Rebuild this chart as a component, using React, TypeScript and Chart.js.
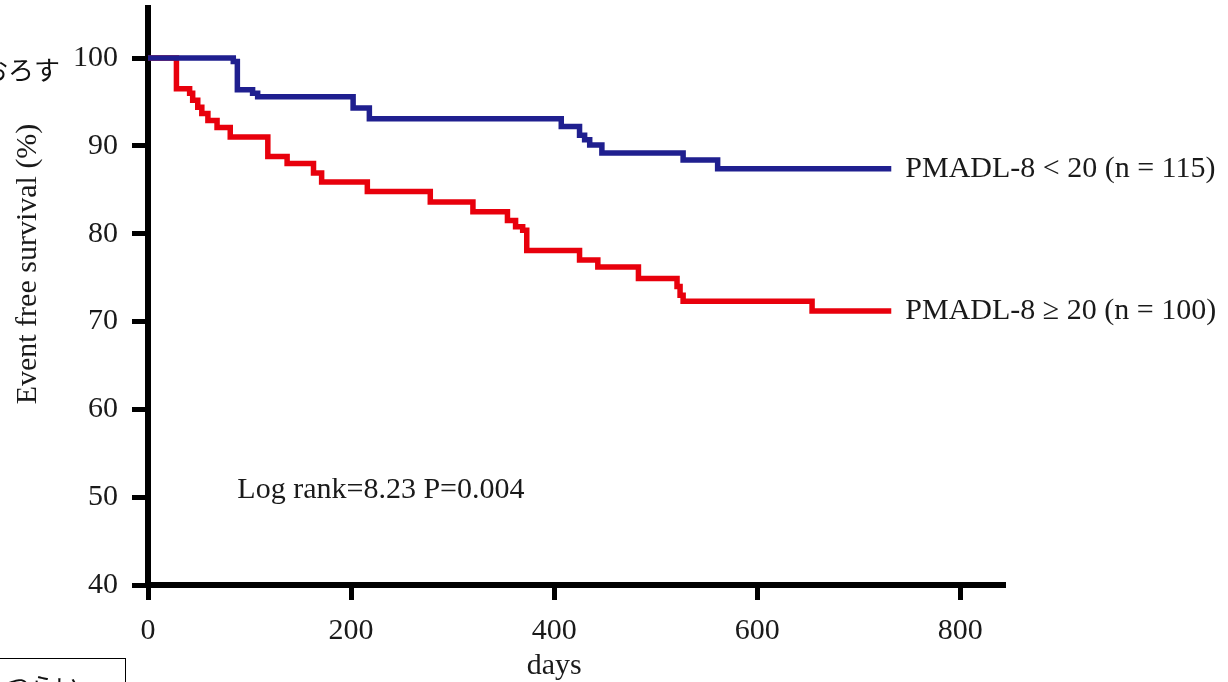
import React, { useEffect, useRef } from "react";
import { Chart, registerables } from "chart.js";

Chart.register(...registerables);

// ---- data ----
const blueLabel = "PMADL-8 < 20 (n = 115)";
const blueDays = [0, 84, 88, 103, 108, 202, 218, 407, 425, 430, 435, 447, 527, 561, 732];
const blueSurvival = [100, 99.6, 96.4, 96.0, 95.6, 94.3, 93.1, 92.2, 91.2, 90.7, 90.1, 89.2, 88.4, 87.4, 87.4];

const redLabel = "PMADL-8 \u2265 20 (n = 100)";
const redDays = [0, 28, 41, 44, 49, 53, 59, 68, 81, 118, 137, 163, 171, 216, 278, 320, 354, 362, 369, 373, 425, 443, 483, 521, 524, 527, 654, 732];
const redSurvival = [100, 96.5, 96.0, 95.2, 94.4, 93.7, 92.9, 92.1, 91.0, 88.8, 88.0, 86.9, 85.9, 84.8, 83.6, 82.5, 81.5, 80.8, 80.4, 78.1, 77.0, 76.2, 74.9, 74.0, 73.0, 72.3, 71.2, 71.2];

const xTicks = [0, 200, 400, 600, 800];
const yTicks = [40, 50, 60, 70, 80, 90, 100];
const xTitle = "days";
const yTitle = "Event free survival (%)";
const logRankText = "Log rank=8.23 P=0.004";
const logRankAt = [88, 50.8]; // [day, survival]

const BLUE = "#1f1f8f";
const RED = "#e8000c";
const FONT = '"Liberation Serif", "Times New Roman", serif';
const FONT_SIZE = 30;
const TEXT = "#1a1a1a";

const toPoints = (xs: number[], ys: number[]) => xs.map((x, i) => ({ x, y: ys[i] }));

const textPlugin = {
  id: "textPlugin",
  afterDraw(chart: any) {
    const ctx = chart.ctx;
    const xs = chart.scales.x;
    const ys = chart.scales.y;
    ctx.save();
    ctx.font = `${FONT_SIZE}px ${FONT}`;
    ctx.fillStyle = TEXT;
    ctx.textAlign = "left";
    ctx.textBaseline = "middle";
    chart.data.datasets.forEach((ds: any) => {
      const last = ds.data[ds.data.length - 1];
      ctx.fillText(ds.label, xs.getPixelForValue(last.x) + 14, ys.getPixelForValue(last.y));
    });
    ctx.fillText(logRankText, xs.getPixelForValue(logRankAt[0]), ys.getPixelForValue(logRankAt[1]));
    ctx.textAlign = "center";
    ctx.fillText(xTitle, xs.getPixelForValue(400), 666);
    ctx.translate(28, 264);
    ctx.rotate(-Math.PI / 2);
    ctx.fillText(yTitle, 0, 0);
    ctx.restore();
  },
};

export default function App() {
  const ref = useRef<HTMLCanvasElement | null>(null);

  useEffect(() => {
    if (!ref.current) return;
    const chart = new Chart(ref.current, {
      type: "line",
      data: {
        datasets: [
          {
            label: blueLabel,
            data: toPoints(blueDays, blueSurvival),
            borderColor: BLUE,
            borderWidth: 5.5,
            pointRadius: 0,
            stepped: true,
            fill: false,
          },
          {
            label: redLabel,
            data: toPoints(redDays, redSurvival),
            borderColor: RED,
            borderWidth: 5.5,
            pointRadius: 0,
            stepped: true,
            fill: false,
          },
        ],
      },
      options: {
        responsive: false,
        animation: false,
        devicePixelRatio: 1,
        layout: { padding: { left: 0, top: 8, right: 223, bottom: 0 } },
        plugins: { legend: { display: false }, tooltip: { enabled: false } },
        scales: {
          x: {
            type: "linear",
            min: 0,
            max: 844,
            afterBuildTicks: (axis: any) => {
              axis.ticks = xTicks.map((v) => ({ value: v }));
            },
            afterFit: (axis: any) => {
              axis.height = 97;
              axis.paddingLeft = 0;
              axis.paddingRight = 0;
            },
            border: { display: true, color: "#000", width: 6 },
            grid: { drawOnChartArea: false, drawTicks: true, tickLength: 15, tickWidth: 5, tickColor: "#000" },
            ticks: { color: TEXT, font: { family: FONT, size: FONT_SIZE }, padding: 13, maxRotation: 0 },
          },
          y: {
            type: "linear",
            min: 40,
            max: 105.7,
            afterBuildTicks: (axis: any) => {
              axis.ticks = yTicks.map((v) => ({ value: v }));
            },
            afterFit: (axis: any) => {
              axis.width = 148;
              axis.paddingTop = 0;
              axis.paddingBottom = 0;
            },
            border: { display: true, color: "#000", width: 6 },
            grid: { drawOnChartArea: false, drawTicks: true, tickLength: 16, tickWidth: 5, tickColor: "#000" },
            ticks: { color: TEXT, font: { family: FONT, size: FONT_SIZE }, padding: 14 },
          },
        },
      },
      plugins: [textPlugin],
    });
    return () => chart.destroy();
  }, []);

  return (
    <div
      style={{
        position: "fixed",
        left: 0,
        top: 0,
        width: 1228,
        height: 682,
        overflow: "hidden",
        background: "#fff",
      }}
    >
      <canvas ref={ref} width={1228} height={682} style={{ position: "absolute", left: 0, top: 0 }} />
      <div
        style={{
          position: "absolute",
          left: -18,
          top: 56,
          fontFamily: '"Noto Sans CJK JP", sans-serif',
          fontSize: 26,
          lineHeight: "26px",
          color: "#111",
          whiteSpace: "nowrap",
        }}
      >
        おろす
      </div>
      <div
        style={{
          position: "absolute",
          left: -2,
          top: 658,
          width: 128,
          height: 60,
          border: "1.5px solid #000",
          boxSizing: "border-box",
          fontFamily: '"Noto Sans CJK JP", sans-serif',
          fontSize: 25,
          lineHeight: "25px",
          paddingTop: 14,
          paddingLeft: 6,
          color: "#111",
          whiteSpace: "nowrap",
        }}
      >
        つらい
      </div>
    </div>
  );
}
